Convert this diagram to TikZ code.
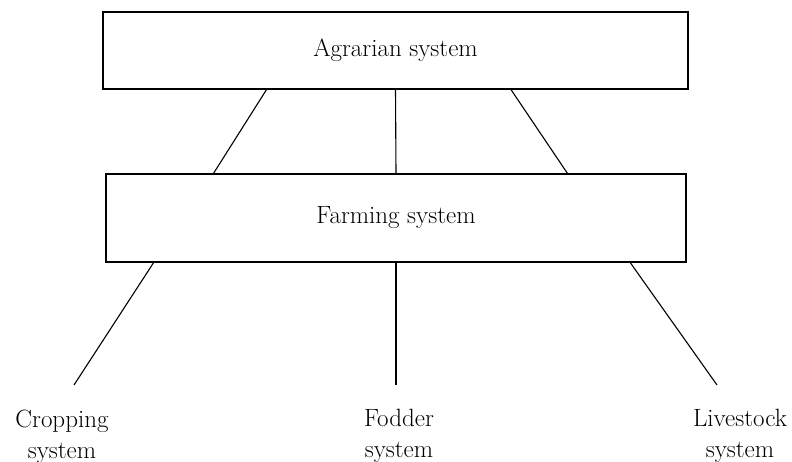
\documentclass[tikz,border=0pt]{standalone}
\usepackage{tikz}
\usetikzlibrary{calc}

\begin{document}
\begin{tikzpicture}[
  x=1pt, y=-1pt,
  every node/.style={font=\fontsize{25}{31}\selectfont},
  sysbox/.style={draw, line width=1.2pt, inner sep=0pt},
  link/.style={draw, line width=1.1pt},
  leaf/.style={align=center, anchor=north},
]
\useasboundingbox (0,0) rectangle (792,462);

% ============ the two system boxes ============
\node[sysbox, minimum width=585pt, minimum height=77pt] (agrarian) at (395.5,50.5) {Agrarian system};
\node[sysbox, minimum width=580pt, minimum height=88pt] (farming) at (396,218) {Farming system};

% links agrarian -> farming
\draw[link] ($(agrarian.south west)!0.280!(agrarian.south east)$) -- ($(farming.north west)!0.186!(farming.north east)$);
\draw[link] (agrarian.south) -- (farming.north);
\draw[link] ($(agrarian.south west)!0.697!(agrarian.south east)$) -- ($(farming.north west)!0.795!(farming.north east)$);

% ============ sub-systems ============
\coordinate (cropend) at (74,385);
\coordinate (fodderend) at (396,385);
\coordinate (liveend) at (717,385);

\draw[link] ($(farming.south west)!0.083!(farming.south east)$) -- (cropend);
\draw[link] (farming.south) -- (fodderend);
\draw[link] ($(farming.south west)!0.903!(farming.south east)$) -- (liveend);

\node[leaf] (cropping) at (62,406) {Cropping\\system};
\node[leaf] (fodder) at (399,406) {Fodder\\system};
\node[leaf] (livestock) at (740,406) {Livestock\\system};

\end{tikzpicture}
\end{document}
